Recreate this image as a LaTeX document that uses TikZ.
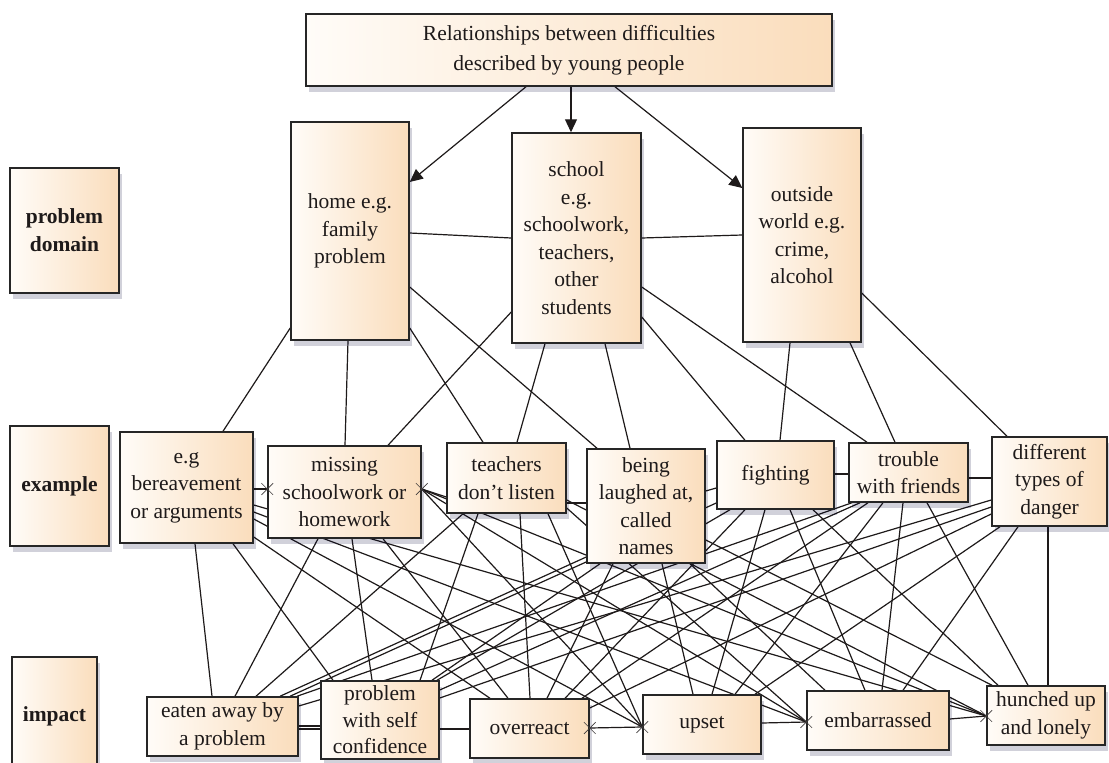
\documentclass[tikz,border=0pt]{standalone}
\usepackage{fontspec}
\setmainfont{Liberation Serif}
\usetikzlibrary{arrows.meta,shadows,shapes.misc,backgrounds}
\definecolor{boxL}{HTML}{FFFCF8}
\definecolor{boxR}{HTML}{FADDBC}
\definecolor{ink}{HTML}{1E1A1A}
\definecolor{frame}{HTML}{262626}
\tikzset{
  box/.style={draw=frame, line width=1.5pt, left color=boxL, right color=boxR,
    align=center, inner sep=1pt, text=ink,
    font=\fontsize{21.5}{27.5}\selectfont,
    drop shadow={shadow xshift=3pt, shadow yshift=-6pt, opacity=0.18, fill=black!80!blue}},
  lab/.style={box, font=\fontsize{21.5}{28}\selectfont\bfseries},
  edge/.style={draw=ink, line width=1.2pt},
  arrow/.style={edge, -{Triangle[length=13pt,width=12pt]}},
  xmark/.style={draw=ink!85, cross out, minimum size=11pt, inner sep=0pt, line width=0.7pt},
}
\begin{document}
\begin{tikzpicture}[x=1pt,y=-1pt]
\useasboundingbox (0,0) rectangle (1109,763);

% ---------- nodes ----------
\node[box, minimum width=526pt, minimum height=72pt, font=\fontsize{21.5}{30}\selectfont] (title) at (569,50) {Relationships between difficulties\\described by young people};

\node[lab, minimum width=109pt, minimum height=125pt] (pdom) at (64.5,230.5) {problem\\domain};
\node[box, minimum width=118pt, minimum height=218pt] (home) at (350,231) {home e.g.\\family\\problem};
\node[box, minimum width=129pt, minimum height=210pt] (school) at (576.5,238) {school\\e.g.\\schoolwork,\\teachers,\\other\\students};
\node[box, minimum width=118pt, minimum height=214pt] (outside) at (802,235) {outside\\world e.g.\\crime,\\alcohol};

\node[lab, minimum width=99pt, minimum height=120pt] (exlab) at (59.5,486) {example};
\node[box, minimum width=133pt, minimum height=111pt] (bereave) at (186.5,487.5) {e.g\\bereavement\\or arguments};
\node[box, minimum width=153pt, minimum height=92pt] (missing) at (344.5,492) {missing\\schoolwork or\\homework};
\node[box, minimum width=119pt, minimum height=70pt] (teachers) at (506.5,478) {teachers\\don't listen};
\node[box, minimum width=118pt, minimum height=114pt] (being) at (646,506) {being\\laughed at,\\called\\names};
\node[box, minimum width=117pt, minimum height=68pt] (fighting) at (775.5,475) {fighting};
\node[box, minimum width=119pt, minimum height=59pt] (trouble) at (908.5,472.5) {trouble\\with friends};
\node[box, minimum width=115pt, minimum height=89pt] (danger) at (1049.5,481.5) {different\\types of\\danger};

\node[lab, minimum width=85pt, minimum height=118pt] (implab) at (54.5,716) {impact};
\node[box, minimum width=151pt, minimum height=59pt] (eaten) at (222.5,726.5) {eaten away by\\a problem};
\node[box, minimum width=118pt, minimum height=78pt, inner ysep=0pt, font=\fontsize{21.5}{26.5}\selectfont] (probself) at (380,720) {problem\\with self\\confidence};
\node[box, minimum width=119pt, minimum height=59pt] (overreact) at (529.5,728.5) {overreact};
\node[box, minimum width=118pt, minimum height=59pt] (upset) at (702,724.5) {upset};
\node[box, minimum width=142pt, minimum height=59pt] (embar) at (878,720.5) {embarrassed};
\node[box, minimum width=118pt, minimum height=59pt] (hunched) at (1046,715.5) {hunched up\\and lonely};

% connection points marked with crosses
\coordinate (xMl) at (missing.west |- 0,489);
\coordinate (xMr) at (missing.east |- 0,489);
\coordinate (xO) at (overreact.east |- 0,728);
\coordinate (xU) at (upset.west |- 0,727);
\coordinate (xE) at (embar.west |- 0,722);
\coordinate (xH) at (hunched.west |- 0,716);

% ---------- connectors (behind the boxes) ----------
\begin{scope}[on background layer]
\fill[white] (0,0) rectangle (1109,763);

% title arrows
\draw[arrow] (title.south -| 526,0) -- (home.east |- 0,182);
\draw[arrow] (title.south -| 571,0) -- (school.north -| 571,0);
\draw[arrow] (title.south -| 615,0) -- (outside.west |- 0,188);

% domain level
\draw[edge] (home.east |- 0,233) -- (school.west |- 0,238);
\draw[edge] (school.east |- 0,238) -- (outside.west |- 0,235);

% domain -> example
\draw[edge] (home.west |- 0,328) -- (bereave.north -| 223,0);
\draw[edge] (home.south -| 348,0) -- (missing.north -| 345,0);
\draw[edge] (home.east |- 0,328) -- (teachers.north -| 483,0);
\draw[edge] (home.east |- 0,287) -- (being.north -| 597,0);
\draw[edge] (school.west |- 0,312) -- (missing.north -| 388,0);
\draw[edge] (school.south -| 545,0) -- (teachers.north -| 517,0);
\draw[edge] (school.south -| 605,0) -- (being.north -| 630,0);
\draw[edge] (school.east |- 0,317) -- (fighting.north -| 745,0);
\draw[edge] (school.east |- 0,287) -- (trouble.north -| 867,0);
\draw[edge] (outside.south -| 790,0) -- (fighting.north -| 780,0);
\draw[edge] (outside.south -| 850,0) -- (trouble.north -| 895,0);
\draw[edge] (outside.east |- 0,293) -- (danger.north -| 1007,0);

% example level
\draw[edge] (bereave.east |- 0,489) -- (xMl);
\draw[edge] (xMr) -- (teachers.west |- 0,497);
\draw[edge] (teachers.east |- 0,503) -- (being.west |- 0,503);
\draw[edge] (being.east |- 0,491) -- (fighting.west |- 0,488);
\draw[edge] (fighting.east |- 0,474) -- (trouble.west |- 0,474);
\draw[edge] (trouble.east |- 0,478) -- (danger.west |- 0,478);

% impact level
\draw[edge] (eaten.east |- 0,726) -- (probself.west |- 0,726);
\draw[edge] (eaten.east |- 0,729) -- (probself.west |- 0,729);
\draw[edge] (probself.east |- 0,729) -- (overreact.west |- 0,729);
\draw[edge] (xO) -- (xU);
\draw[edge] (upset.east |- 0,723) -- (xE);
\draw[edge] (embar.east |- 0,719) -- (xH);

% bereavement -> impacts
\draw[edge] (bereave.south -| 195,0) -- (eaten.north -| 212,0);
\draw[edge] (bereave.south -| 233,0) -- (probself.north -| 333,0);
\draw[edge] (bereave.east |- 0,537) -- (overreact.north -| 490,0);
\draw[edge] (bereave.east |- 0,519) -- (xU);
\draw[edge] (bereave.east |- 0,512) -- (xE);
\draw[edge] (bereave.east |- 0,505) -- (xH);
% missing -> impacts
\draw[edge] (missing.south -| 318,0) -- (eaten.north -| 235,0);
\draw[edge] (missing.south -| 352,0) -- (probself.north -| 372,0);
\draw[edge] (missing.south -| 383,0) -- (overreact.north -| 508,0);
\draw[edge] (xMr) -- (xU);
\draw[edge] (xMr) -- (xE);
\draw[edge] (xMr) -- (xH);
% teachers -> impacts
\draw[edge] (teachers.south -| 463,0) -- (eaten.north -| 256,0);
\draw[edge] (teachers.south -| 478,0) -- (probself.north -| 420,0);
\draw[edge] (teachers.south -| 520,0) -- (overreact.north -| 530,0);
\draw[edge] (teachers.south -| 548,0) -- (xU);
\draw[edge] (teachers.east |- 0,508) -- (xE);
\draw[edge] (teachers.east |- 0,500) -- (xH);
% being -> impacts
\draw[edge] (being.west |- 0,557) -- (eaten.north -| 280,0);
\draw[edge] (being.south -| 600,0) -- (probself.north -| 432,0);
\draw[edge] (being.south -| 613,0) -- (overreact.north -| 547,0);
\draw[edge] (being.south -| 662,0) -- (upset.north -| 693,0);
\draw[edge] (being.south -| 690,0) -- (embar.north -| 825,0);
\draw[edge] (being.east |- 0,540) -- (hunched.north -| 992,0);
% fighting -> impacts
\draw[edge] (fighting.west |- 0,503) -- (eaten.north -| 290,0);
\draw[edge] (fighting.south -| 730,0) -- (probself.north -| 437,0);
\draw[edge] (fighting.south -| 745,0) -- (overreact.north -| 565,0);
\draw[edge] (fighting.south -| 765,0) -- (upset.north -| 712,0);
\draw[edge] (fighting.south -| 790,0) -- (embar.north -| 865,0);
\draw[edge] (fighting.south -| 813,0) -- (hunched.north -| 998,0);
% trouble -> impacts
\draw[edge] (trouble.south -| 852,0) -- (eaten.north -| 297,0);
\draw[edge] (trouble.south -| 860,0) -- (probself.east |- 0,690);
\draw[edge] (trouble.south -| 868,0) -- (overreact.north -| 582,0);
\draw[edge] (trouble.south -| 883,0) -- (upset.north -| 735,0);
\draw[edge] (trouble.south -| 903,0) -- (embar.north -| 882,0);
\draw[edge] (trouble.south -| 927,0) -- (hunched.north -| 1028,0);
% danger -> impacts
\draw[edge] (danger.west |- 0,500) -- (eaten.east |- 0,706);
\draw[edge] (danger.west |- 0,507) -- (probself.east |- 0,698);
\draw[edge] (danger.west |- 0,514) -- (overreact.east |- 0,708);
\draw[edge] (danger.south -| 1000,0) -- (upset.north -| 755,0);
\draw[edge] (danger.south -| 1018,0) -- (embar.north -| 903,0);
\draw[edge] (danger.south -| 1048,0) -- (hunched.north -| 1048,0);
\end{scope}

% cross marks
\foreach \p in {xMl,xMr,xO,xU,xE,xH} \node[xmark] at (\p) {};
\end{tikzpicture}
\end{document}
